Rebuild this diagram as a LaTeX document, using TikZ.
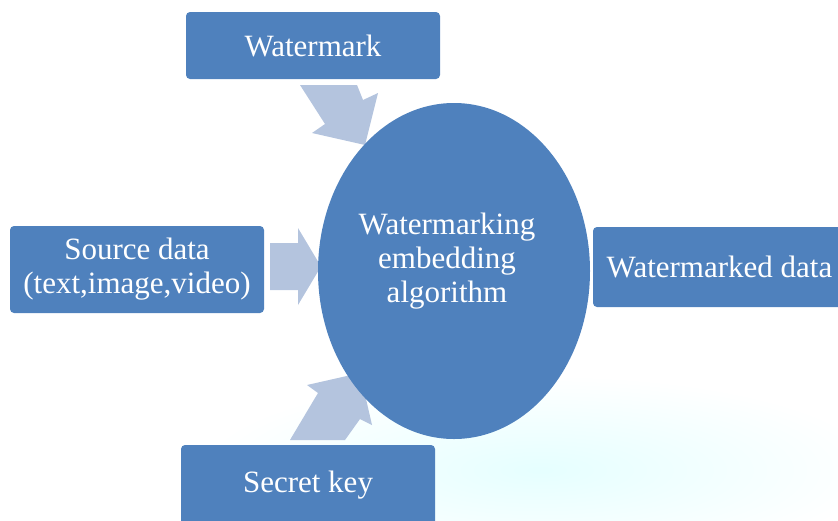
\documentclass[tikz,border=0pt]{standalone}
\usepackage{fontspec}
\setmainfont{Liberation Serif}
\usetikzlibrary{shapes.geometric}
\definecolor{boxblue}{RGB}{79,129,189}
\definecolor{arrowblue}{RGB}{180,196,222}
\tikzset{
  box/.style={fill=boxblue, rounded corners=4pt, text=white, align=center,
    font=\fontsize{31}{34}\selectfont, inner sep=0pt},
  blockarrow/.style={fill=arrowblue, draw=none},
}
\begin{document}
\begin{tikzpicture}[x=1pt,y=-1pt]
\useasboundingbox (0,0) rectangle (838,520);
\clip (0,0) rectangle (838,520);
% faint background glow
\shade[inner color=cyan!10, outer color=white] (540,470) ellipse [x radius=340, y radius=95];
% block arrows
\fill[blockarrow] (300,85) -- (357,85) -- (363,100) -- (378,93) -- (365,145) -- (312,133) -- (325,124) -- cycle;
\fill[blockarrow] (270,243) -- (298,243) -- (298,228) -- (321,266.5) -- (298,305) -- (298,290) -- (270,290) -- cycle;
\fill[blockarrow] (290,440) -- (345,440) -- (360,419) -- (372,425) -- (360,373) -- (307,385) -- (318,393) -- cycle;
\fill[blockarrow] (578,241) rectangle (587,295);
% boxes
\node[box, minimum width=254pt, minimum height=67pt] (wm) at (313,45.5) {Watermark};
\node[box, minimum width=254pt, minimum height=87pt] (src) at (137,269.5) {Source data\\(text,image,video)};
\node[box, minimum width=253pt, minimum height=80pt] (out) at (719.5,267) {Watermarked data};
\node[box, minimum width=254pt, minimum height=80pt] (key) at (308,485) {Secret key};
% ellipse
\node[ellipse, fill=boxblue, minimum width=272pt, minimum height=336pt, inner sep=0pt] (alg) at (454,271) {};
\node[text=white, align=center, font=\fontsize{31}{34}\selectfont] (algtext) at (447,261) {Watermarking\\embedding\\algorithm};
\end{tikzpicture}
\end{document}
